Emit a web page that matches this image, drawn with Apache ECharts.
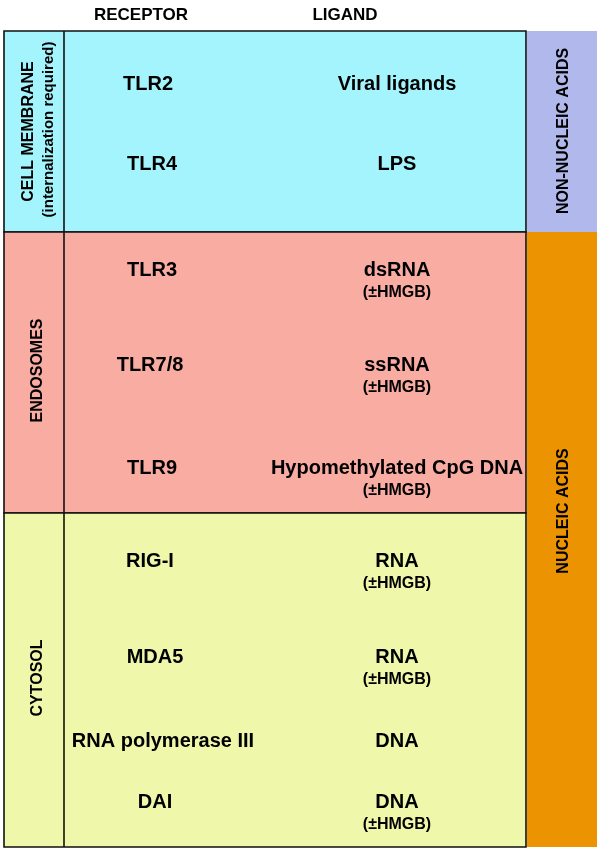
<!DOCTYPE html>
<html>
<head>
<meta charset="utf-8">
<script src="https://cdn.jsdelivr.net/npm/echarts@6/dist/echarts.min.js"></script>
<style>
html,body{margin:0;padding:0;background:#fff;}
#chart{width:600px;height:853px;}
</style>
</head>
<body>
<div id="chart"></div>
<script>
// ---- data ----
const headers = ['RECEPTOR', 'LIGAND'];
const sectionNames = ['CELL MEMBRANE', 'ENDOSOMES', 'CYTOSOL'];
const sectionSubNames = ['(internalization required)', '', ''];
const sectionStart = [31, 232, 513];
const sectionEnd = [232, 513, 847];
const classNames = ['NON-NUCLEIC ACIDS', 'NUCLEIC ACIDS'];
const classStart = [31, 232];
const classEnd = [232, 847];
const receptors = ['TLR2', 'TLR4', 'TLR3', 'TLR7/8', 'TLR9', 'RIG-I', 'MDA5', 'RNA polymerase III', 'DAI'];
const ligands = ['Viral ligands', 'LPS', 'dsRNA', 'ssRNA', 'Hypomethylated CpG DNA', 'RNA', 'RNA', 'DNA', 'DNA'];
const ligandNotes = ['', '', '(±HMGB)', '(±HMGB)', '(±HMGB)', '(±HMGB)', '(±HMGB)', '', '(±HMGB)'];
const rowPos = [84, 164, 270, 365, 468, 561, 657, 741, 802];

// ---- layout / style ----
const FONT = '"Liberation Sans", Arial, sans-serif';
const sectionColors = ['#a3f4fc', '#f9aca2', '#eff7aa'];
const classColors = ['#b1b8ec', '#eb9300'];
const receptorX = [148, 152, 152, 150, 152, 150, 155, 163, 155];
const ligandX = 397;
const tableLeft = 4, tableRight = 526, divider = 64;
const classLeft = 527, classRight = 597;
const classLabelPos = [131, 511];

const chart = echarts.init(document.getElementById('chart'), null, {renderer: 'canvas'});

function txt(p, text, font, extra) {
  return Object.assign({
    type: 'text', x: p[0], y: p[1],
    style: {x: 0, y: 0, text: text, font: font, fill: '#000', align: 'center', verticalAlign: 'middle'}
  }, extra || {});
}

const option = {
  animation: false,
  backgroundColor: '#fff',
  grid: {left: 0, right: 0, top: 0, bottom: 0},
  xAxis: {type: 'value', min: 0, max: 600, show: false},
  yAxis: {type: 'value', min: 0, max: 853, inverse: true, show: false},
  series: [
    {
      type: 'custom', coordinateSystem: 'cartesian2d',
      data: classNames.map((n, i) => [classStart[i], classEnd[i], i]),
      renderItem: function (params, api) {
        const i = api.value(2);
        const a = api.coord([classLeft, api.value(0)]);
        const b = api.coord([classRight, api.value(1)]);
        const c = api.coord([564, classLabelPos[i]]);
        return {type: 'group', children: [
          {type: 'rect', shape: {x: a[0], y: a[1], width: b[0] - a[0], height: b[1] - a[1]}, style: {fill: classColors[i]}},
          txt(c, classNames[i], 'bold 16px ' + FONT, {rotation: Math.PI / 2})
        ]};
      }
    },
    {
      type: 'custom', coordinateSystem: 'cartesian2d',
      data: sectionNames.map((n, i) => [sectionStart[i], sectionEnd[i], i]),
      renderItem: function (params, api) {
        const i = api.value(2);
        const a = api.coord([tableLeft, api.value(0)]);
        const b = api.coord([tableRight, api.value(1)]);
        const d = api.coord([divider, 0])[0];
        const mid = (api.value(0) + api.value(1)) / 2;
        const children = [
          {type: 'rect', shape: {x: a[0], y: a[1], width: b[0] - a[0], height: b[1] - a[1]}, style: {fill: sectionColors[i], stroke: '#111', lineWidth: 1.6}},
          {type: 'line', shape: {x1: d, y1: a[1], x2: d, y2: b[1]}, style: {stroke: '#111', lineWidth: 1.6}}
        ];
        if (sectionSubNames[i]) {
          children.push(txt(api.coord([29, mid]), sectionNames[i], 'bold 16px ' + FONT, {rotation: Math.PI / 2}));
          children.push(txt(api.coord([49, mid - 2]), sectionSubNames[i], 'bold 15px ' + FONT, {rotation: Math.PI / 2}));
        } else {
          children.push(txt(api.coord([38, mid - 2]), sectionNames[i], 'bold 16px ' + FONT, {rotation: Math.PI / 2}));
        }
        return {type: 'group', children: children};
      }
    },
    {
      type: 'custom', coordinateSystem: 'cartesian2d',
      data: receptors.map((r, i) => [rowPos[i], i]),
      renderItem: function (params, api) {
        const i = api.value(1);
        const y = api.value(0);
        const children = [
          txt(api.coord([receptorX[i], y]), receptors[i], 'bold 20px ' + FONT),
          txt(api.coord([ligandX, y]), ligands[i], 'bold 20px ' + FONT)
        ];
        if (ligandNotes[i]) children.push(txt(api.coord([ligandX, y + 23]), ligandNotes[i], 'bold 16px ' + FONT));
        return {type: 'group', children: children};
      }
    },
    {
      type: 'custom', coordinateSystem: 'cartesian2d',
      data: headers.map((h, i) => [i]),
      renderItem: function (params, api) {
        const i = api.value(0);
        const x = i === 0 ? 141 : 345;
        return txt(api.coord([x, 15]), headers[i], 'bold 17px ' + FONT);
      }
    }
  ]
};
chart.setOption(option);
</script>
</body>
</html>
